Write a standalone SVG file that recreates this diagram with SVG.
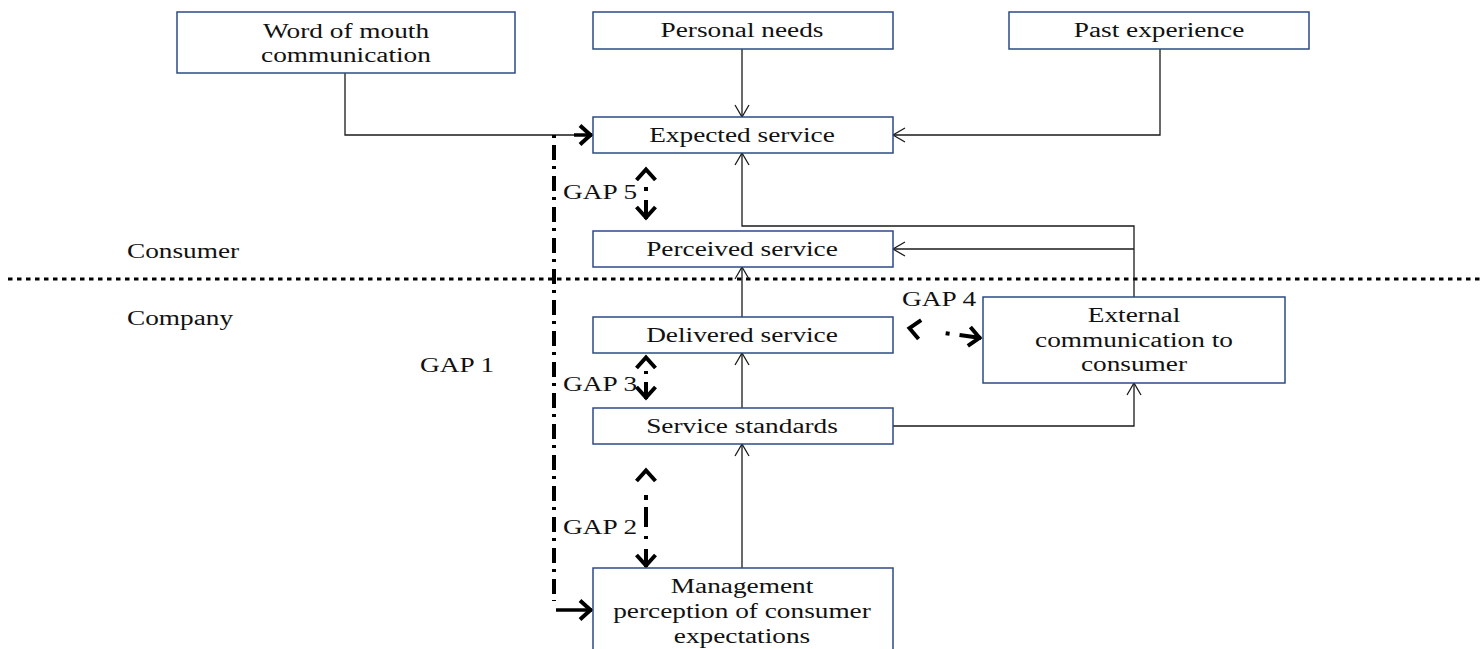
<svg xmlns="http://www.w3.org/2000/svg" width="1484" height="649" viewBox="0 0 1484 649">
<defs>
<style>
.box{fill:#fff;stroke:#2c4a86;stroke-width:1.5}
.t{font-family:"Liberation Serif","Times New Roman",serif;font-size:20px;fill:#111}
.c{text-anchor:middle}
.con{fill:none;stroke:#1a1a1a;stroke-width:1.3}
.gap{fill:none;stroke:#000;stroke-width:4;stroke-dasharray:14 6 3 6}
.sep{fill:none;stroke:#000;stroke-width:3;stroke-dasharray:4.5 4.5}
</style>
<marker id="open" markerUnits="userSpaceOnUse" viewBox="-14 -9 16 18" markerWidth="16" markerHeight="18" refX="0" refY="0" orient="auto-start-reverse" overflow="visible">
<path d="M-12,-7 L0,0 L-12,7" fill="none" stroke="#1a1a1a" stroke-width="1.3"/>
</marker>
<marker id="bold" markerUnits="userSpaceOnUse" viewBox="-16 -12 18 24" markerWidth="18" markerHeight="24" refX="0" refY="0" orient="auto-start-reverse" overflow="visible">
<path d="M-12,-9.5 L-1.5,0 L-12,9.5" fill="none" stroke="#000" stroke-width="4" stroke-linejoin="miter"/>
</marker>
</defs>
<rect width="1484" height="649" fill="#fff"/>

<line class="sep" x1="8" y1="279" x2="1484" y2="279"/>

<g id="connectors">
<path class="con" d="M742 49 V117" marker-end="url(#open)"/>
<path class="con" d="M345 73 V135 H593" marker-end="url(#open)"/>
<path class="con" d="M1160 49 V135 H893" marker-end="url(#open)"/>
<path class="con" d="M1134 297 V226 H742 V153" marker-end="url(#open)"/>
<path class="con" d="M1134 249 H893" marker-end="url(#open)"/>
<path class="con" d="M742 317 V267" marker-end="url(#open)"/>
<path class="con" d="M742 408 V353" marker-end="url(#open)"/>
<path class="con" d="M893 426 H1134 V383" marker-end="url(#open)"/>
<path class="con" d="M742 568 V444" marker-end="url(#open)"/>
<g id="gap1">
<path class="gap" d="M554 135 V601" style="stroke-dasharray:3 7 15 6"/>
<path d="M574 135 H592" fill="none" stroke="#000" stroke-width="3.5" marker-end="url(#bold)"/>
<path d="M556 610 H592" fill="none" stroke="#000" stroke-width="3.5" marker-end="url(#bold)"/>
</g>
<path id="gap5" class="gap" d="M646 168 V219" style="stroke-dasharray:0 19 4 9 40" marker-start="url(#bold)" marker-end="url(#bold)"/>
<path id="gap3" class="gap" d="M646 356 V399" style="stroke-dasharray:0 15 3 8 40" marker-start="url(#bold)" marker-end="url(#bold)"/>
<path id="gap2" class="gap" d="M646 469 V567" style="stroke-dasharray:0 26 5 7 20 9 3 10 40" marker-start="url(#bold)" marker-end="url(#bold)"/>
<path id="gap4" class="gap" d="M908 328 L981 338" style="stroke-dasharray:0 38 4 10 40" marker-start="url(#bold)" marker-end="url(#bold)"/>
</g>

<g id="wom"><rect class="box" x="177" y="12" width="338" height="61"/>
<text class="t c" transform="translate(346 38) scale(1.365 1)">Word of mouth</text>
<text class="t c" transform="translate(346 62) scale(1.365 1)">communication</text></g>
<g id="personal"><rect class="box" x="593" y="12" width="300" height="37"/>
<text class="t c" transform="translate(742 37) scale(1.365 1)">Personal needs</text></g>
<g id="past"><rect class="box" x="1009" y="12" width="300" height="37"/>
<text class="t c" transform="translate(1159 37) scale(1.365 1)">Past experience</text></g>
<g id="expected"><rect class="box" x="593" y="117" width="300" height="36"/>
<text class="t c" transform="translate(742 142) scale(1.365 1)">Expected service</text></g>
<g id="perceived"><rect class="box" x="593" y="231" width="300" height="36"/>
<text class="t c" transform="translate(742 256) scale(1.365 1)">Perceived service</text></g>
<g id="delivered"><rect class="box" x="593" y="317" width="300" height="36"/>
<text class="t c" transform="translate(742 342) scale(1.365 1)">Delivered service</text></g>
<g id="standards"><rect class="box" x="593" y="408" width="300" height="36"/>
<text class="t c" transform="translate(742 433) scale(1.365 1)">Service standards</text></g>
<g id="management"><rect class="box" x="593" y="568" width="300" height="100"/>
<text class="t c" transform="translate(742 593) scale(1.365 1)">Management</text>
<text class="t c" transform="translate(742 618) scale(1.365 1)">perception of consumer</text>
<text class="t c" transform="translate(742 643) scale(1.365 1)">expectations</text></g>
<g id="external"><rect class="box" x="983" y="297" width="302" height="86"/>
<text class="t c" transform="translate(1134 322) scale(1.365 1)">External</text>
<text class="t c" transform="translate(1134 347) scale(1.365 1)">communication to</text>
<text class="t c" transform="translate(1134 371) scale(1.365 1)">consumer</text></g>

<g id="labels">
<text class="t" transform="translate(127 258) scale(1.365 1)">Consumer</text>
<text class="t" transform="translate(127 325) scale(1.365 1)">Company</text>
<text class="t" transform="translate(420 372) scale(1.365 1)">GAP 1</text>
<text class="t" transform="translate(563 199) scale(1.365 1)">GAP 5</text>
<text class="t" transform="translate(563 391) scale(1.365 1)">GAP 3</text>
<text class="t" transform="translate(563 534) scale(1.365 1)">GAP 2</text>
<text class="t" transform="translate(902 306) scale(1.365 1)">GAP 4</text>
</g>
</svg>
